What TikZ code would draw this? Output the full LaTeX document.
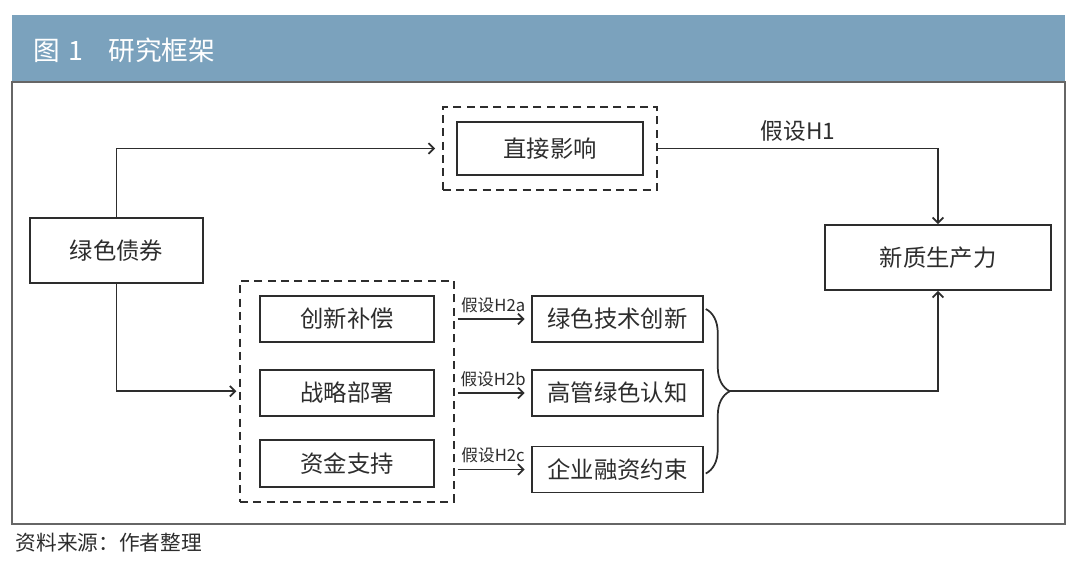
\documentclass[tikz,border=0pt]{standalone}
\usepackage{fontspec}
\setmainfont{Noto Sans CJK SC}
\usetikzlibrary{arrows.meta,fit,calc,decorations.pathreplacing}
\definecolor{headblue}{RGB}{123,162,189}
\definecolor{inkgray}{RGB}{45,45,45}
\tikzset{
  box/.style={draw=inkgray, line width=1.4pt, text=inkgray, font=\fontsize{17.5}{20}\selectfont},
  dashbox/.style={draw=inkgray, line width=1.5pt, dash pattern=on 6pt off 4pt},
  arr/.style={draw=inkgray, line width=1.3pt, -{Straight Barb[length=4pt,width=8pt]}},
  hyp/.style={text=inkgray, font=\fontsize{12.5}{14}\selectfont, inner sep=1pt}
}
\begin{document}
\begin{tikzpicture}[x=0.75pt,y=-0.75pt]
    \useasboundingbox (0,0) rectangle (1080,565);
    \fill[white] (0,0) rectangle (1080,565);

    % header and frame
    \fill[headblue] (12,15) rectangle (1065,82);
    \draw[headblue!75!black, line width=0.8pt] (12,82) -- (1065,82);
    \draw[gray!80!black, line width=0.8pt] (12,82) rectangle (1065,524);
    \node[anchor=west, text=white, font=\fontsize{20}{24}\selectfont] (title) at (29,50) {图\hspace{0.3em}1\hspace{0.95em}研究框架};
    \node[anchor=west, text=inkgray, font=\fontsize{15.5}{18}\selectfont] (source) at (11,543) {资料来源：作者整理};

    % main boxes
    \node[box, minimum width=129.75pt, minimum height=48.75pt] (bond) at (116.5,250.5) {绿色债券};
    \node[box, minimum width=139.5pt, minimum height=39.75pt] (direct) at (550,148.5) {直接影响};
    \node[dashbox, fit=(direct), inner xsep=10pt, inner ysep=10.5pt] (dirgrp) {};
    \node[box, minimum width=169.5pt, minimum height=48.75pt] (new) at (938,257.5) {新质生产力};

    % mechanisms
    \node[box, minimum width=130.5pt, minimum height=35pt] (m1) at (347,319) {创新补偿};
    \node[box, minimum width=130.5pt, minimum height=35pt] (m2) at (347,393) {战略部署};
    \node[box, minimum width=130.5pt, minimum height=35pt] (m3) at (347,463.5) {资金支持};
    \node[dashbox, fit=(m1)(m3), inner xsep=14.25pt, inner ysep=10.5pt] (mech) {};

    \node[box, minimum width=128pt, minimum height=34.5pt] (r1) at (617.5,319) {绿色技术创新};
    \node[box, minimum width=128pt, minimum height=34.5pt] (r2) at (617.5,393) {高管绿色认知};
    \node[box, minimum width=128pt, minimum height=34.5pt] (r3) at (617.5,469.5) {企业融资约束};

    % arrows
    \draw[arr, shorten >=5pt] (bond.north) |- (dirgrp.west);
    \draw[arr, shorten >=2pt] (bond.south) |- (mech.west);
    \draw[arr] (dirgrp.east) -| node[pos=0.25, above=4pt, hyp, font=\fontsize{17}{20}\selectfont] (h1) {假设H1} (new.north);
    \draw[arr, shorten <=2pt, shorten >=5pt] (r1.west -| mech.east) -- node[midway, above=3pt, hyp] (h2a) {假设H2a} (r1.west);
    \draw[arr, shorten <=2pt, shorten >=5pt] (r2.west -| mech.east) -- node[midway, above=3pt, hyp] (h2b) {假设H2b} (r2.west);
    \draw[arr, shorten <=2pt, shorten >=5pt] (r3.west -| mech.east) -- node[midway, above=3pt, hyp] (h2c) {假设H2c} (r3.west);

    % brace
    \draw[inkgray, line width=1.3pt, decorate, decoration={brace, amplitude=18pt}] ($(r1.east)+(2,-10)$) -- ($(r3.east)+(2,4)$);
    \coordinate (tip) at ($(r1.east)!0.5!(r3.east)+(26,-3)$);
    \draw[arr] (tip) -| (new.south);
\end{tikzpicture}
\end{document}
